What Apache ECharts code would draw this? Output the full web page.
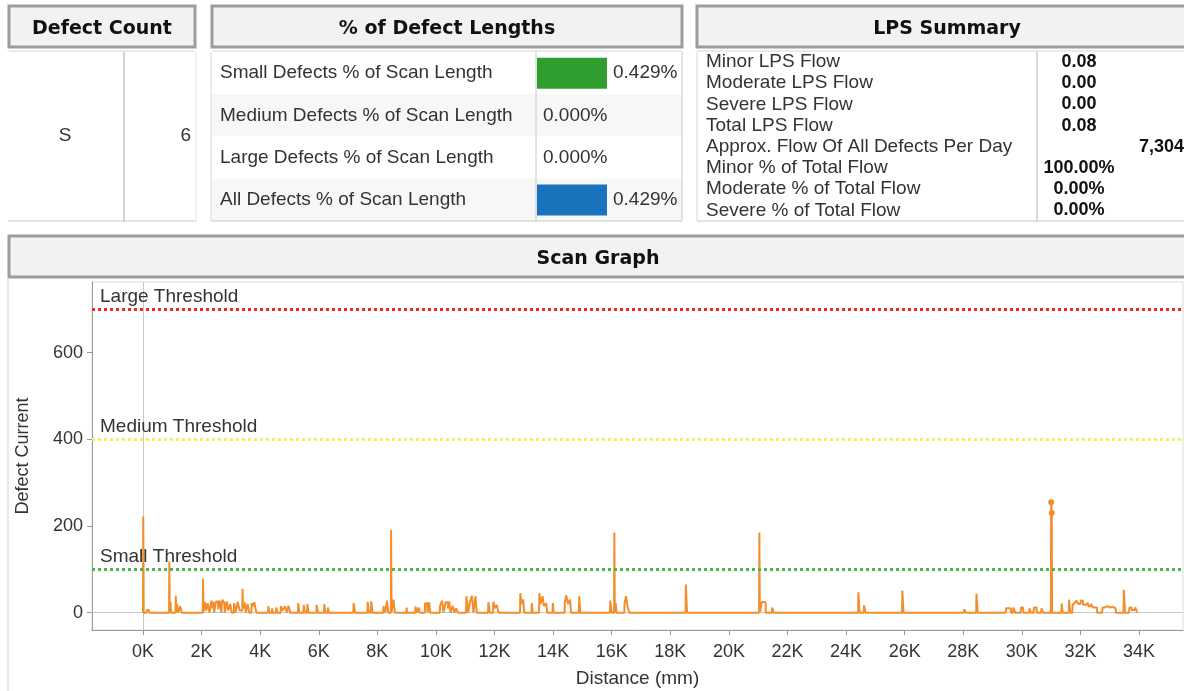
<!DOCTYPE html>
<html>
<head>
<meta charset="utf-8">
<script src="https://cdn.jsdelivr.net/npm/echarts@6/dist/echarts.min.js"></script>
<style>
  html, body { margin: 0; padding: 0; background: #fff; }
  #chart { width: 1184px; height: 691px; }
</style>
</head>
<body>
<div id="chart"></div>
<script>
const defectCountLabel = 'S'
const defectCountValue = 6

const pctCategories = [
  'Small Defects % of Scan Length',
  'Medium Defects % of Scan Length',
  'Large Defects % of Scan Length',
  'All Defects % of Scan Length'
]
const pctValues = [0.429, 0.000, 0.000, 0.429]

const lpsLabels = [
  'Minor LPS Flow',
  'Moderate LPS Flow',
  'Severe LPS Flow',
  'Total LPS Flow',
  'Approx. Flow Of All Defects Per Day',
  'Minor % of Total Flow',
  'Moderate % of Total Flow',
  'Severe % of Total Flow'
]
const lpsValues = ['0.08', '0.00', '0.00', '0.08', '7,304', '100.00%', '0.00%', '0.00%']

const thresholdNames = ['Large Threshold', 'Medium Threshold', 'Small Threshold']
const thresholdValues = [700, 400, 100]

const xTickValues = [0, 2000, 4000, 6000, 8000, 10000, 12000, 14000, 16000, 18000, 20000, 22000, 24000, 26000, 28000, 30000, 32000, 34000]
const yTickValues = [0, 200, 400, 600]

// distance (mm), defect current
const scanPoints = [
  [0, 0], [10, 222], [25, 0], [120, 0], [130, 6], [200, 6], [210, 0],
  [890, 0], [900, 118], [915, 0], [930, 0], [940, 25], [960, 0], [1110, 0], [1120, 39], [1135, 0], [1150, 0], [1160, 20],
  [1200, 20], [1210, 0], [1260, 0], [1270, 15], [1320, 15], [1330, 0],
  [2040, 0], [2050, 78], [2065, 0], [2100, 0], [2110, 25], [2150, 25], [2160, 5], [2200, 5], [2210, 22], [2260, 22], [2270, 0],
  [2330, 0], [2340, 28], [2380, 10], [2420, 24], [2430, 0], [2480, 0], [2490, 26], [2560, 26], [2570, 8], [2620, 28],
  [2660, 28], [2670, 0], [2700, 0], [2710, 30], [2780, 22], [2790, 0], [2850, 0], [2860, 26], [2900, 26], [2910, 5],
  [2980, 20], [3020, 20], [3030, 0], [3100, 0], [3110, 22], [3150, 22], [3160, 0], [3220, 0], [3230, 25], [3290, 25],
  [3300, 5], [3390, 5], [3400, 55], [3415, 10], [3470, 24], [3500, 24], [3510, 0], [3560, 0], [3570, 20], [3620, 20],
  [3630, 0], [3700, 0], [3710, 22], [3760, 15], [3800, 24], [3860, 24], [3870, 0],
  [4270, 0], [4280, 15], [4300, 15], [4310, 0], [4400, 0], [4410, 10], [4430, 0], [4540, 0], [4550, 12], [4580, 12], [4590, 0],
  [4700, 0], [4710, 15], [4760, 15], [4770, 5], [4850, 15], [4900, 15], [4910, 0], [4960, 0], [4970, 16], [5020, 16], [5030, 0],
  [5290, 0], [5300, 22], [5320, 22], [5330, 0], [5480, 0], [5490, 18], [5520, 18], [5530, 0], [5600, 0], [5610, 20],
  [5640, 20], [5650, 0], [5920, 0], [5930, 18], [5960, 18], [5970, 0], [6180, 0], [6190, 20], [6210, 20], [6220, 0],
  [6300, 0], [6310, 12], [6340, 12], [6350, 0], [7180, 0], [7190, 22], [7230, 22], [7240, 0], [7660, 0], [7670, 25],
  [7700, 25], [7710, 0], [7780, 0], [7790, 26], [7830, 26], [7840, 0], [8200, 0], [8210, 15], [8260, 15], [8270, 0],
  [8320, 0], [8330, 28], [8360, 28], [8370, 0], [8460, 0], [8470, 191], [8485, 0], [8540, 0], [8550, 30], [8590, 30], [8600, 0],
  [8990, 0], [9000, 12], [9010, 0], [9290, 0], [9300, 14], [9340, 14], [9350, 0], [9400, 0], [9410, 12], [9440, 12], [9450, 0],
  [9620, 0], [9630, 22], [9700, 22], [9710, 0], [9760, 0], [9770, 24], [9790, 24], [9800, 0],
  [10130, 0], [10140, 15], [10200, 15], [10210, 28], [10250, 28], [10260, 0], [10320, 0], [10330, 24], [10400, 24],
  [10410, 10], [10450, 26], [10490, 26], [10500, 0], [10560, 0], [10570, 16], [10620, 16], [10630, 0], [10680, 0],
  [10690, 10], [10740, 10], [10750, 0], [11030, 0], [11040, 38], [11090, 38], [11100, 0], [11150, 0], [11160, 25],
  [11230, 39], [11270, 39], [11280, 0], [11340, 0], [11350, 38], [11380, 38], [11390, 0], [11780, 0], [11790, 24],
  [11830, 24], [11840, 0], [11950, 0], [11960, 25], [12000, 25], [12010, 10], [12080, 18], [12120, 18], [12130, 0],
  [12870, 0], [12880, 45], [12910, 45], [12920, 20], [12980, 30], [13000, 30], [13010, 0], [13260, 0], [13270, 22],
  [13290, 22], [13300, 0], [13520, 0], [13530, 45], [13560, 45], [13570, 20], [13640, 38], [13670, 38], [13680, 15],
  [13760, 22], [13790, 22], [13800, 0], [13980, 0], [13990, 22], [14010, 22], [14020, 0], [14390, 0], [14400, 25],
  [14440, 25], [14450, 40], [14500, 40], [14510, 20], [14580, 30], [14600, 30], [14610, 0], [14880, 0], [14890, 38],
  [14920, 38], [14930, 0],
  [15940, 0], [15950, 28], [15990, 28], [16000, 0], [16080, 0], [16090, 185], [16105, 0], [16130, 0], [16140, 22],
  [16160, 0], [16430, 0], [16440, 22], [16480, 22], [16490, 38], [16530, 38], [16540, 15], [16590, 15], [16600, 0],
  [18520, 0], [18530, 65], [18560, 65], [18570, 0],
  [21030, 0], [21040, 185], [21055, 0], [21120, 0], [21130, 25], [21180, 25], [21190, 24], [21250, 24], [21260, 0],
  [21470, 0], [21480, 12], [21520, 12], [21530, 0],
  [24410, 0], [24420, 47], [24450, 47], [24460, 0], [24600, 0], [24610, 17], [24650, 17], [24660, 0],
  [25910, 0], [25920, 51], [25950, 51], [25960, 0],
  [28020, 0], [28030, 8], [28080, 8], [28090, 0], [28440, 0], [28450, 44], [28480, 44], [28490, 0],
  [29450, 0], [29460, 10], [29620, 10], [29630, 0], [29700, 0], [29710, 12], [29760, 12], [29770, 0], [29960, 0],
  [29970, 12], [30040, 12], [30050, 0], [30250, 0], [30260, 10], [30300, 10], [30310, 0], [30400, 0], [30410, 12],
  [30500, 12], [30510, 0], [30660, 0], [30670, 10], [30720, 10], [30730, 0],
  [30990, 0], [31000, 255], [31020, 230], [31030, 0],
  [31350, 0], [31360, 21], [31390, 0], [31600, 0], [31610, 30], [31640, 30], [31650, 0], [31720, 0], [31730, 18],
  [31800, 22], [31850, 22], [31860, 28], [31920, 28], [31930, 20], [32000, 20], [32010, 28], [32080, 28], [32090, 18],
  [32180, 18], [32190, 22], [32260, 22], [32270, 15], [32350, 15], [32360, 20], [32420, 20], [32430, 12], [32560, 12],
  [32570, 0], [32740, 0], [32750, 12], [32840, 12], [32850, 15], [32920, 15], [32930, 12], [33020, 12], [33030, 14],
  [33100, 14], [33110, 10], [33200, 10], [33210, 0], [33470, 0], [33480, 53], [33510, 53], [33520, 0], [33660, 0],
  [33670, 12], [33740, 12], [33750, 6], [33860, 6], [33870, 12], [33930, 12], [33940, 0]
]

// ---- layout / styles ----
const FONT = '"Liberation Sans", Arial, sans-serif'
const HEAD_FONT = 'bold 19px "DejaVu Sans", Verdana, sans-serif'
const textColor = '#333'
const barColors = ['#2f9e2f', '#2f9e2f', '#2f9e2f', '#1a74bd']
const thresholdColors = ['#f0262b', '#f2f05a', '#4fb54f']
const traceColor = '#f28e2b'

const chart = echarts.init(document.getElementById('chart'))

function headerBox(x, y, w, h, title) {
  return [
    { type: 'rect', shape: { x: x, y: y, width: w, height: h }, style: { fill: '#f2f2f2', stroke: '#9c9c9c', lineWidth: 3 } },
    { type: 'line', shape: { x1: x, y1: y + h + 4, x2: x + w, y2: y + h + 4 }, style: { stroke: '#d6d6d6', lineWidth: 1 } },
    { type: 'text', style: { text: title, x: x + w / 2, y: y + h / 2 + 3, font: HEAD_FONT, fill: '#111', textAlign: 'center', textVerticalAlign: 'middle' } }
  ]
}

function hline(x1, x2, y, c) {
  return { type: 'line', shape: { x1: x1, y1: y, x2: x2, y2: y }, style: { stroke: c || '#cfcfcf', lineWidth: 1 } }
}
function vline(x, y1, y2, c) {
  return { type: 'line', shape: { x1: x, y1: y1, x2: x, y2: y2 }, style: { stroke: c || '#cfcfcf', lineWidth: 1 } }
}

const graphics = []
  .concat(headerBox(9, 6, 186, 41, 'Defect Count'))
  .concat(headerBox(212, 6, 470, 41, '% of Defect Lengths'))
  .concat(headerBox(697, 6, 500, 41, 'LPS Summary'))

// scan graph header (text centred on the visible width)
graphics.push({ type: 'rect', shape: { x: 9, y: 236, width: 1190, height: 41 }, style: { fill: '#f2f2f2', stroke: '#9c9c9c', lineWidth: 3 } })
graphics.push({ type: 'text', style: { text: 'Scan Graph', x: 598, y: 259, font: HEAD_FONT, fill: '#111', textAlign: 'center', textVerticalAlign: 'middle' } })

// row banding in % table
graphics.push({ type: 'rect', z: -1, shape: { x: 212, y: 94, width: 470, height: 42 }, style: { fill: '#f7f7f7' } })
graphics.push({ type: 'rect', z: -1, shape: { x: 212, y: 179, width: 470, height: 42 }, style: { fill: '#f7f7f7' } })

// table rules
graphics.push(hline(8, 196, 221, '#c8c8c8'))
graphics.push(vline(124, 52, 221, '#a8a8a8'))
graphics.push(vline(196, 52, 221, '#e0e0e0'))
graphics.push(vline(211, 52, 221, '#d8d8d8'))
graphics.push(vline(682, 52, 221, '#c8c8c8'))
graphics.push(hline(211, 682, 221, '#c8c8c8'))
graphics.push(vline(536, 52, 221, '#c8c8c8'))
graphics.push(vline(697, 52, 221, '#d8d8d8'))
graphics.push(vline(1037, 52, 221, '#b0b0b0'))
graphics.push(hline(697, 1184, 221, '#c8c8c8'))
graphics.push(vline(8, 277, 691, '#d6d6d6'))

// defect count
graphics.push({ type: 'text', style: { text: defectCountLabel, x: 65, y: 136, font: '19px ' + FONT, fill: textColor, textAlign: 'center', textVerticalAlign: 'middle' } })
graphics.push({ type: 'text', style: { text: String(defectCountValue), x: 191, y: 136, font: '19px ' + FONT, fill: textColor, textAlign: 'right', textVerticalAlign: 'middle' } })

// LPS summary
lpsLabels.forEach(function (lab, i) {
  const y = 62 + i * 21.2
  graphics.push({ type: 'text', style: { text: lab, x: 706, y: y, font: '19px ' + FONT, fill: textColor, textAlign: 'left', textVerticalAlign: 'middle' } })
  const isWide = lpsValues[i] === '7,304'
  graphics.push({ type: 'text', style: { text: lpsValues[i], x: isWide ? 1184 : 1079, y: y, font: 'bold 18px ' + FONT, fill: '#111', textAlign: isWide ? 'right' : 'center', textVerticalAlign: 'middle' } })
})

const thresholdLines = thresholdValues.map(function (v, i) {
  return {
    yAxis: v,
    lineStyle: { color: thresholdColors[i], type: [3, 3], width: 3 },
    label: { show: true, formatter: thresholdNames[i], position: 'insideStartTop', distance: [8, 3], color: textColor, fontSize: 19, fontFamily: FONT }
  }
})

// peaks above 200 past 30K carry a marker in the original view
const traceData = scanPoints.map(function (p) {
  return p[0] > 30000 && p[1] > 200 ? { value: p, symbol: 'circle', symbolSize: 6 } : p
})

chart.setOption({
  animation: false,
  backgroundColor: '#fff',
  graphic: graphics,
  grid: [
    { left: 537, top: 52, width: 145, height: 169, outerBoundsMode: 'none', containLabel: false },
    { left: 92, top: 282, width: 1091, height: 348, show: true, borderColor: '#dedede', borderWidth: 1, outerBoundsMode: 'none', containLabel: false }
  ],
  xAxis: [
    { gridIndex: 0, type: 'value', min: 0, max: 0.889, show: false },
    {
      gridIndex: 1,
      type: 'value',
      min: -1740,
      max: 35500,
      name: 'Distance (mm)',
      nameLocation: 'middle',
      nameGap: 39,
      nameTextStyle: { fontSize: 19, color: textColor, fontFamily: FONT },
      axisLine: { onZero: false, lineStyle: { color: '#9a9a9a' } },
      axisTick: { show: true, customValues: xTickValues, length: 5, lineStyle: { color: '#9a9a9a' } },
      axisLabel: { customValues: xTickValues, formatter: function (v) { return v / 1000 + 'K' }, fontSize: 18, color: textColor, fontFamily: FONT, margin: 13 },
      splitLine: { show: false }
    }
  ],
  yAxis: [
    {
      gridIndex: 0,
      type: 'category',
      inverse: true,
      data: pctCategories,
      axisLine: { show: false },
      axisTick: { show: false },
      axisLabel: { align: 'left', margin: 317, fontSize: 19, color: textColor, fontFamily: FONT }
    },
    {
      gridIndex: 1,
      type: 'value',
      min: -40,
      max: 763,
      name: 'Defect Current',
      nameLocation: 'middle',
      nameGap: 60,
      nameTextStyle: { fontSize: 18, color: textColor, fontFamily: FONT },
      axisLine: { show: true, onZero: false, lineStyle: { color: '#9a9a9a' } },
      axisTick: { show: true, customValues: yTickValues, length: 5, lineStyle: { color: '#9a9a9a' } },
      axisLabel: { customValues: yTickValues, fontSize: 18, color: textColor, fontFamily: FONT, margin: 9 },
      splitLine: { show: false }
    }
  ],
  series: [
    {
      type: 'bar',
      xAxisIndex: 0,
      yAxisIndex: 0,
      data: pctValues,
      barWidth: 31,
      itemStyle: { color: function (p) { return barColors[p.dataIndex] } },
      label: {
        show: true,
        position: 'right',
        distance: 6,
        formatter: function (p) { return p.value.toFixed(3) + '%' },
        fontSize: 19,
        color: textColor,
        fontFamily: FONT
      }
    },
    {
      // reference lines at zero, drawn under the scan trace
      type: 'line',
      xAxisIndex: 1,
      yAxisIndex: 1,
      data: [],
      z: 1,
      markLine: {
        silent: true,
        symbol: 'none',
        z: 1,
        data: [
          { xAxis: 0, lineStyle: { color: '#c8c8c8', type: 'solid', width: 1 }, label: { show: false } },
          { yAxis: 0, lineStyle: { color: '#c8c8c8', type: 'solid', width: 1 }, label: { show: false } }
        ]
      }
    },
    {
      type: 'line',
      xAxisIndex: 1,
      yAxisIndex: 1,
      data: traceData,
      smooth: false,
      symbol: 'none',
      showSymbol: true,
      lineStyle: { color: traceColor, width: 2 },
      itemStyle: { color: traceColor },
      z: 3,
      markLine: {
        silent: true,
        symbol: 'none',
        data: thresholdLines
      }
    }
  ]
})
</script>
</body>
</html>
